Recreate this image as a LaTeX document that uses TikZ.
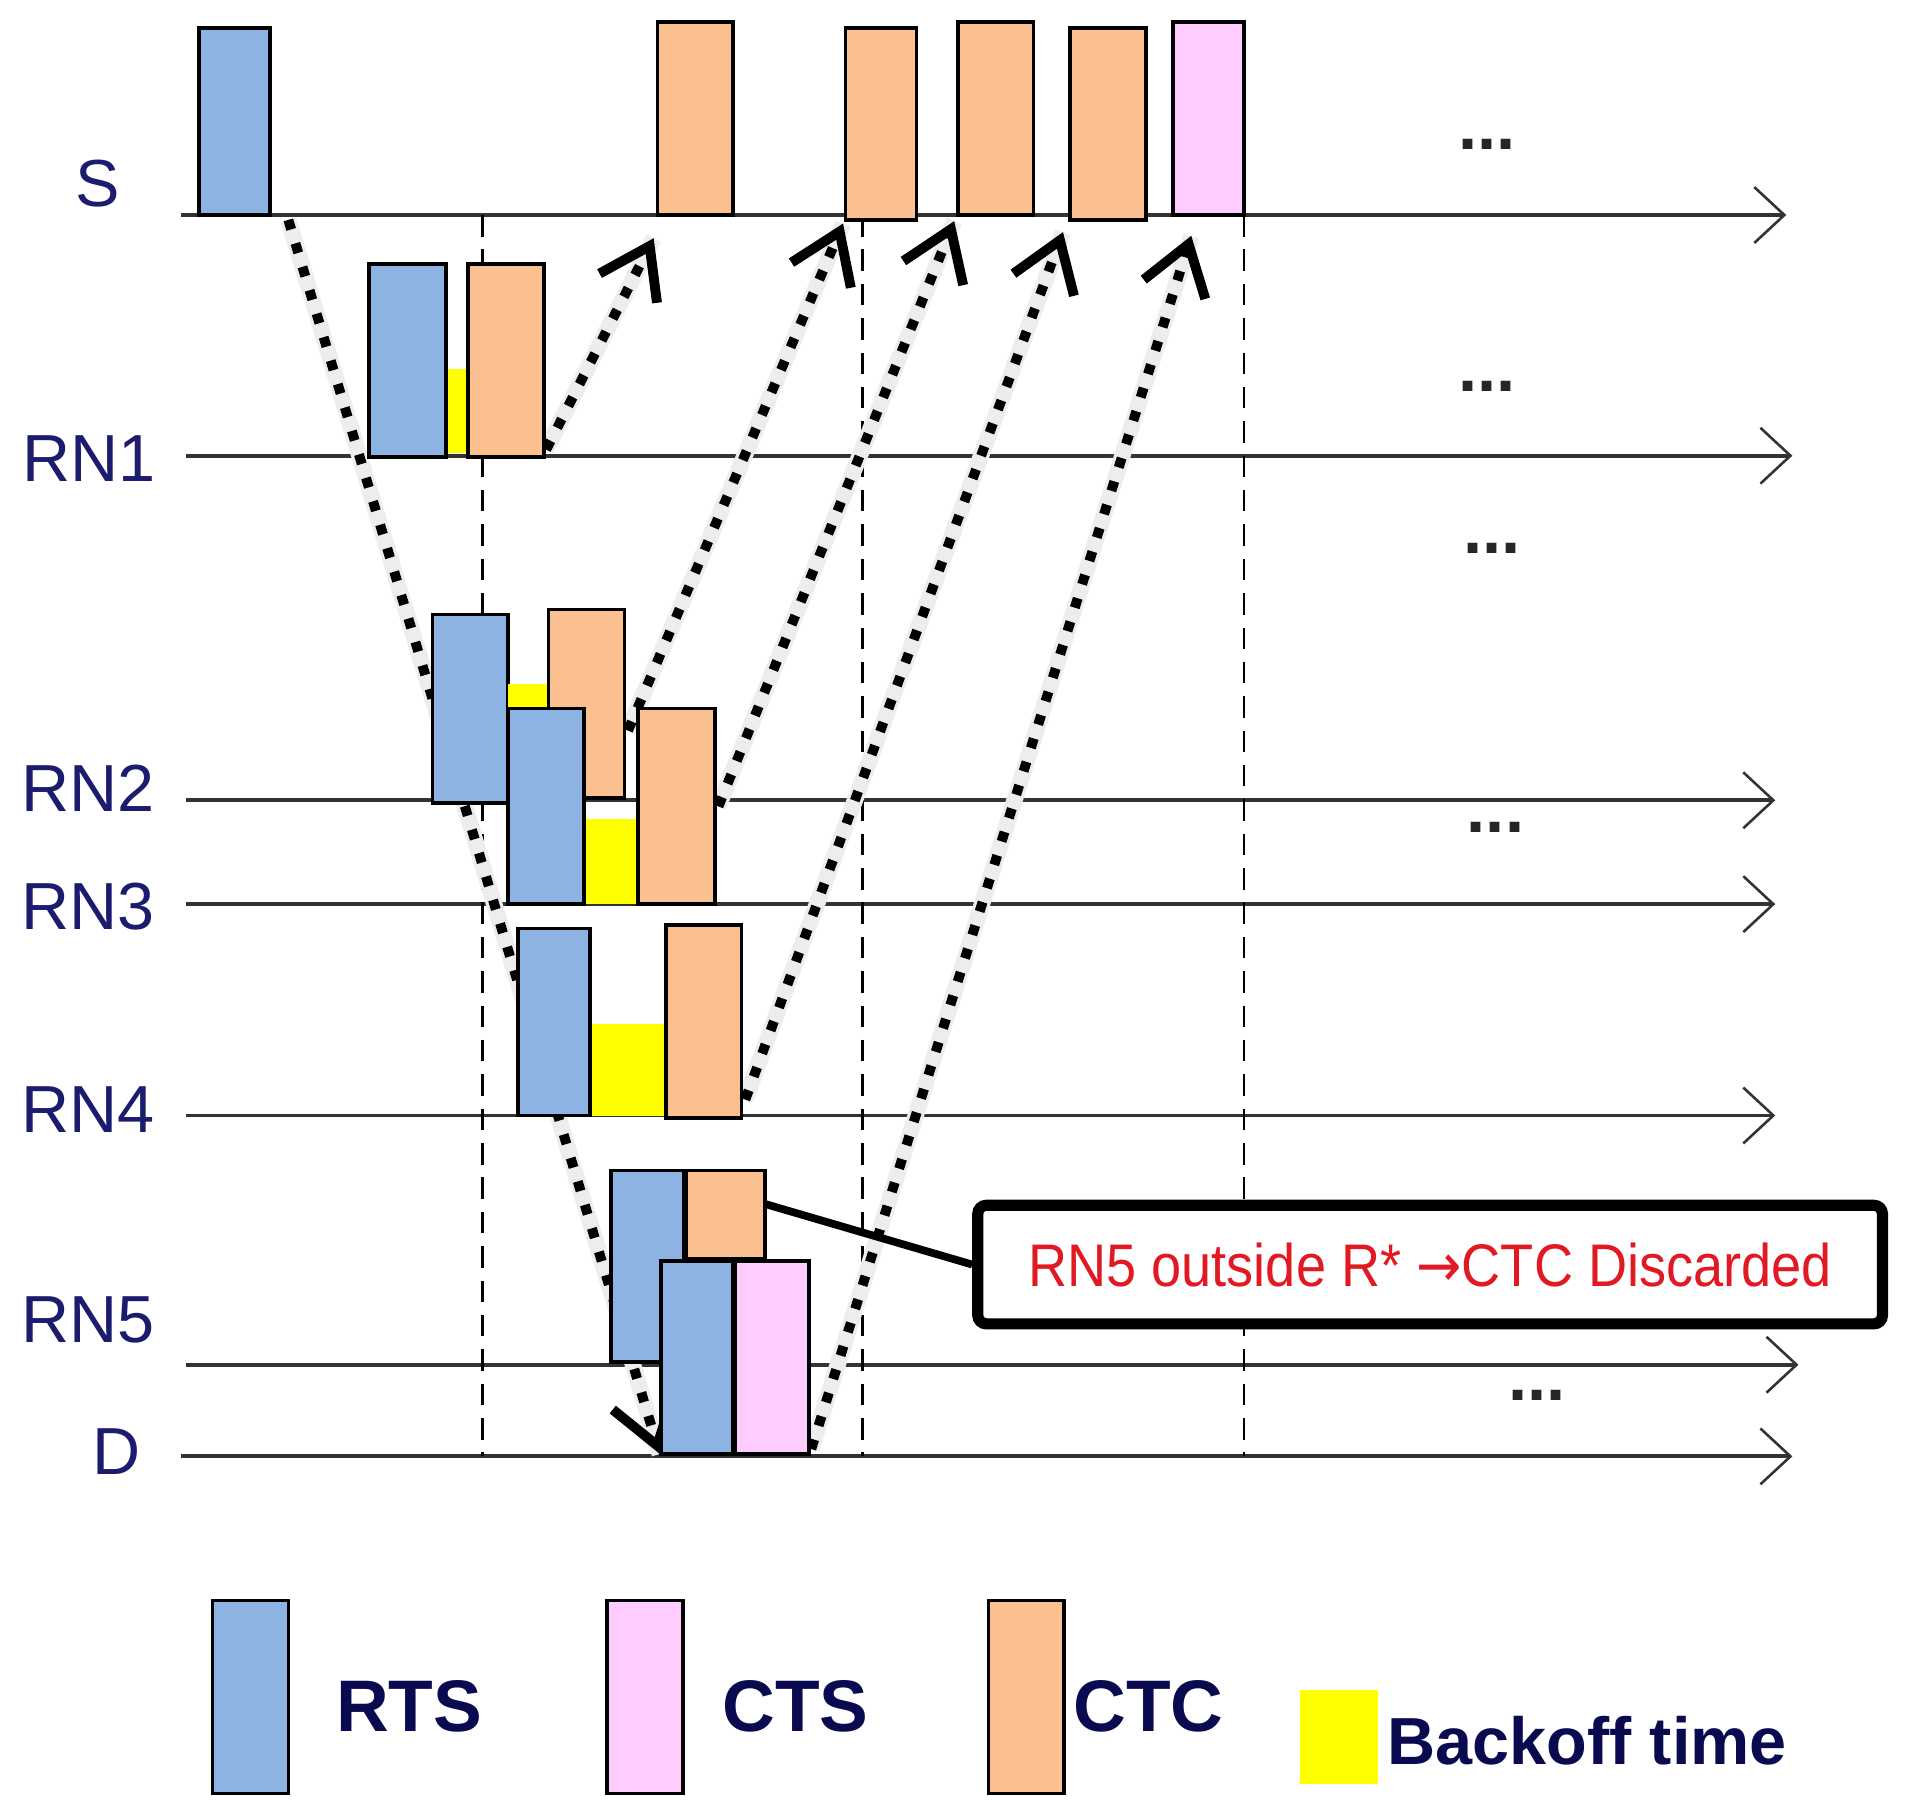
\documentclass[tikz,border=0pt]{standalone}
\usepackage{fontspec}
\setmainfont{Liberation Sans}
\newfontfamily\narrowfont[FakeStretch=0.9]{Liberation Sans}
\newfontfamily\arrowfont[FakeStretch=0.9]{DejaVu Sans}
\usetikzlibrary{arrows.meta,calc}
\definecolor{rtsblue}{RGB}{141,179,226}
\definecolor{ctcorange}{RGB}{250,192,144}
\definecolor{ctspink}{RGB}{255,204,255}
\definecolor{boyellow}{RGB}{255,255,0}
\definecolor{labelnavy}{RGB}{28,28,110}
\definecolor{legnavy}{RGB}{10,10,80}
\definecolor{calloutred}{RGB}{225,25,35}
\newcommand\pkt[6]{\node[#2, minimum width={(#5-#3)*0.01cm}, minimum height={(#6-#4)*0.01cm}] (#1) at ({(#3+#5)/2},{(#4+#6)/2}) {};}
\begin{document}
\begin{tikzpicture}[x=0.01cm,y=-0.01cm,
  box/.style={draw=black, line width=0.85pt, inner sep=0pt, outer sep=0pt},
  rts/.style={box, fill=rtsblue},
  ctc/.style={box, fill=ctcorange},
  cts/.style={box, fill=ctspink},
  backoff/.style={fill=boyellow, draw=none, inner sep=0pt, outer sep=0pt},
  timeline/.style={draw=black!80, line width=0.9pt, -{Straight Barb[length=7pt,width=13pt,line width=0.6pt]}},
  guide/.style={draw=black, line width=0.55pt, dash pattern=on 5pt off 3pt},
  halo/.style={draw=black!7, line width=3.8pt},
  msg/.style={draw=black, line width=2.3pt, dash pattern=on 2.3pt off 3.4pt, -{Straight Barb[length=11pt,width=15pt]}},
  lab/.style={text=labelnavy, font=\fontsize{15.5pt}{18pt}\selectfont, inner sep=0pt},
  dots/.style={text=black!85, font=\bfseries\fontsize{16pt}{18pt}\selectfont, inner sep=0pt},
  legtxt/.style={text=legnavy, font=\bfseries\fontsize{17pt}{20pt}\selectfont, inner sep=0pt},
  callout/.style={draw=black, line width=2.6pt, rounded corners=2pt, fill=white, inner sep=0pt,
     text=calloutred, font=\narrowfont\fontsize{14pt}{16pt}\selectfont}
]
\useasboundingbox (0,0) rectangle (1560,1473);

% labels
\node[lab] (lS) at (80,150) {S};
\node[lab] (lR1) at (73,375) {RN1};
\node[lab] (lR2) at (72,645) {RN2};
\node[lab] (lR3) at (72,742) {RN3};
\node[lab] (lR4) at (72,908) {RN4};
\node[lab] (lR5) at (72,1080) {RN5};
\node[lab] (lD) at (95,1188) {D};

% timelines
\coordinate (sL) at (148,176);   \coordinate (sR) at (1462,176);
\coordinate (r1L) at (152,373);  \coordinate (r1R) at (1467,373);
\coordinate (r2L) at (152,655);  \coordinate (r2R) at (1453,655);
\coordinate (r3L) at (152,740);  \coordinate (r3R) at (1453,740);
\coordinate (r4L) at (152,913);  \coordinate (r4R) at (1453,913);
\coordinate (r5L) at (152,1117); \coordinate (r5R) at (1472,1117);
\coordinate (dL) at (148,1192);  \coordinate (dR) at (1467,1192);
\foreach \a/\b in {sL/sR,r1L/r1R,r2L/r2R,r3L/r3R,r4L/r4R,r5L/r5R,dL/dR}
  \draw[timeline] (\a) -- (\b);

% dashed guides
\foreach \n/\x in {1/395,2/706,3/1018}{
  \coordinate (g\n t) at (\x,176);
  \coordinate (g\n b) at (\x,1192);
  \draw[guide] (g\n t) -- (g\n b);
}

% message arrows (endpoints)
\coordinate (m0s) at (236,180);  \coordinate (m0e) at (540,1190);
\coordinate (m1s) at (447,368);  \coordinate (m1e) at (535,195);
\coordinate (m2s) at (514,598);  \coordinate (m2e) at (690,183);
\coordinate (m3s) at (588,660);  \coordinate (m3e) at (781,181);
\coordinate (m4s) at (610,900);  \coordinate (m4e) at (870,190);
\coordinate (m5s) at (664,1186); \coordinate (m5e) at (975,193);
\foreach \i in {0,...,5}{
  \draw[halo] (m\i s) -- (m\i e);
}
\foreach \i in {0,...,5}{
  \draw[msg] (m\i s) -- (m\i e);
}

% S row
\pkt{sRTS}{rts}{163}{23}{221}{176}
\pkt{sCTC1}{ctc}{538}{18}{600}{176}
\pkt{sCTC2}{ctc}{692}{23}{750}{180}
\pkt{sCTC3}{ctc}{784}{18}{846}{176}
\pkt{sCTC4}{ctc}{876}{23}{938}{180}
\pkt{sCTS}{cts}{960}{18}{1018}{176}

% RN1
\pkt{r1bo}{backoff}{365}{302}{382}{371}
\pkt{r1RTS}{rts}{302}{216}{365}{374}
\pkt{r1CTC}{ctc}{383}{216}{445}{374}

% RN2
\pkt{r2RTS}{rts}{354}{503}{416}{657}
\pkt{r2bo}{backoff}{416}{560}{449}{600}
\pkt{r2CTC}{ctc}{449}{499}{511}{653}

% RN3
\pkt{r3bo}{backoff}{478}{670}{522}{740}
\pkt{r3RTS}{rts}{416}{580}{478}{740}
\pkt{r3CTC}{ctc}{522}{580}{585}{740}

% RN4
\pkt{r4bo}{backoff}{483}{838}{545}{913}
\pkt{r4RTS}{rts}{424}{760}{483}{913}
\pkt{r4CTC}{ctc}{545}{757}{607}{915}

% RN5
\pkt{r5RTS}{rts}{500}{958}{560}{1115}
\pkt{r5CTC}{ctc}{562}{958}{626}{1030}

% D
\pkt{dRTS}{rts}{541}{1032}{600}{1190}
\pkt{dCTS}{cts}{602}{1032}{662}{1190}

% callout
\node[callout, minimum width=7.4cm, minimum height=0.97cm] (note) at (1170.5,1035)
  {RN5 outside R* {\arrowfont →}CTC Discarded};
\draw[line width=1.8pt] ($(r5CTC.north east)!0.38!(r5CTC.south east)$) -- (note.west);

% ellipses
\node[dots] (e1) at (1217,118) {...};
\node[dots] (e2) at (1217,316) {...};
\node[dots] (e3) at (1221,449) {...};
\node[dots] (e4) at (1224,677) {...};
\node[dots] (e5) at (1258,1142) {...};

% legend
\pkt{legRTS}{rts}{174}{1310}{236}{1468}
\node[legtxt] (tRTS) at (335,1397) {RTS};
\pkt{legCTS}{cts}{497}{1310}{559}{1468}
\node[legtxt] (tCTS) at (651,1397) {CTS};
\pkt{legCTC}{ctc}{809}{1310}{871}{1468}
\node[legtxt] (tCTC) at (940,1397) {CTC};
\pkt{legBO}{backoff}{1064}{1383}{1128}{1460}
\node[legtxt, font=\bfseries\fontsize{15.5pt}{18pt}\selectfont] (tBO) at (1299,1425) {Backoff time};
\end{tikzpicture}
\end{document}
